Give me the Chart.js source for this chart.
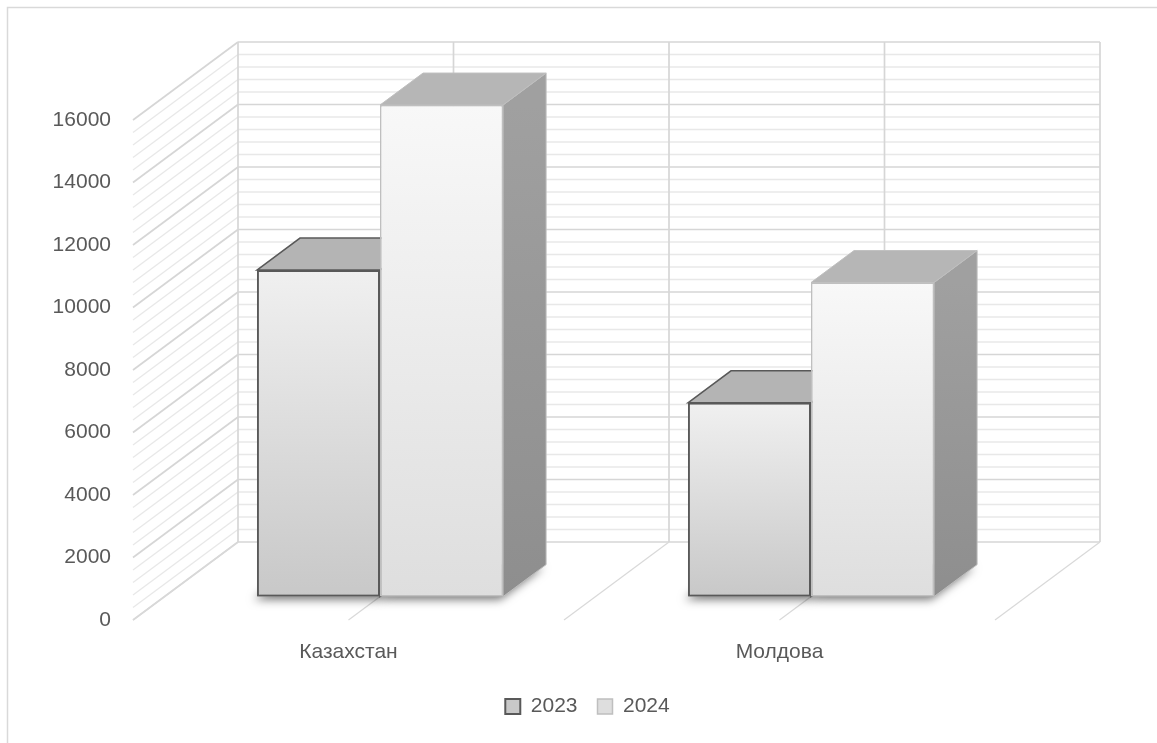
<!DOCTYPE html>
<html>
<head>
<meta charset="utf-8">
<title>Казахстан / Молдова</title>
<script src="https://cdn.jsdelivr.net/npm/chart.js@4.4.1/dist/chart.umd.min.js"></script>
<style>
  html, body { margin: 0; padding: 0; background: #fff; }
</style>
</head>
<body>
<canvas id="chart" width="1157" height="743"></canvas>
<script>
const categories = ['Казахстан', 'Молдова'];
const seriesNames = ['2023', '2024'];
const values2023 = [10450, 6200];
const values2024 = [15730, 10050];
const yMin = 0, yMax = 16000, yStep = 2000, yMinorStep = 400;

// 3D look: offset from the front plane to the back wall, in px
const DEPTH = { x: 105, y: -78 };
const BAR_FRONT = 0.3;   // bars' front face sits this far into the box
const BAR_DEPTH = 0.41;  // and the bars are this deep

const FONT = 'Liberation Sans, Arial, sans-serif';
const TEXT = '#595959';

// front face: light at the top, darker at the floor (flat colour for the legend)
function faceGradient(c, top, bottom, flat) {
  const y = c.chart.scales.y;
  if (!y || c.raw == null) return flat;
  const y0 = y.getPixelForValue(c.raw), y1 = y.getPixelForValue(0);
  if (!isFinite(y0) || !isFinite(y1) || y0 === y1) return flat;
  const g = c.chart.ctx.createLinearGradient(0, y0, 0, y1);
  g.addColorStop(0, top);
  g.addColorStop(1, bottom);
  return g;
}

const faceStyles = [
  { top: '#b4b4b4', side: ['#a2a2a2', '#8c8c8c'], edge: '#595959', edgeW: 1.5 },
  { top: '#b6b6b6', side: ['#a0a0a0', '#8e8e8e'], edge: '#bfbfbf', edgeW: 1 }
];

function drawFaces(ctx, meta, st) {
  const dx = DEPTH.x * BAR_DEPTH, dy = DEPTH.y * BAR_DEPTH;
  meta.data.forEach(bar => {
    const { x, y, base, width } = bar.getProps(['x', 'y', 'base', 'width'], true);
    const l = x - width / 2, r = x + width / 2;
    // side face
    const g = ctx.createLinearGradient(0, y, 0, base);
    g.addColorStop(0, st.side[0]);
    g.addColorStop(1, st.side[1]);
    ctx.beginPath();
    ctx.moveTo(r, y);
    ctx.lineTo(r + dx, y + dy);
    ctx.lineTo(r + dx, base + dy);
    ctx.lineTo(r, base);
    ctx.closePath();
    ctx.fillStyle = g;
    ctx.fill();
    ctx.strokeStyle = st.edge;
    ctx.lineWidth = st.edgeW;
    ctx.stroke();
    // top face
    ctx.beginPath();
    ctx.moveTo(l, y);
    ctx.lineTo(l + dx, y + dy);
    ctx.lineTo(r + dx, y + dy);
    ctx.lineTo(r, y);
    ctx.closePath();
    ctx.fillStyle = st.top;
    ctx.fill();
    ctx.stroke();
  });
}

const box3d = {
  id: 'box3d',
  beforeDraw(chart) {
    const ctx = chart.ctx;
    ctx.save();
    ctx.fillStyle = '#fff';
    ctx.fillRect(0, 0, chart.width, chart.height);
    ctx.strokeStyle = '#d9d9d9';
    ctx.lineWidth = 1.5;
    ctx.strokeRect(7.5, 7.5, chart.width + 50, chart.height + 50);
    ctx.restore();
  },
  beforeDatasetsDraw(chart) {
    const { ctx, chartArea: a, scales: { x, y } } = chart;
    const line = (x1, y1, x2, y2, color, w) => {
      ctx.beginPath();
      ctx.moveTo(x1, y1);
      ctx.lineTo(x2, y2);
      ctx.strokeStyle = color;
      ctx.lineWidth = w;
      ctx.stroke();
    };
    ctx.save();
    // side wall + back wall
    for (let v = yMin; v <= yMax; v += yMinorStep) {
      const major = v % yStep === 0;
      const py = y.getPixelForValue(v);
      const col = major ? '#d6d6d6' : '#e8e8e8';
      const w = major ? 1.7 : 1.3;
      line(a.left, py, a.left + DEPTH.x, py + DEPTH.y, col, w);
      line(a.left + DEPTH.x, py + DEPTH.y, a.right + DEPTH.x, py + DEPTH.y, col, w);
    }
    // verticals on the back wall and depth lines on the floor
    const half = (x.getPixelForValue(1) - x.getPixelForValue(0)) / 2;
    const xs = [];
    categories.forEach((c, i) => {
      const cx = x.getPixelForValue(i);
      xs.push(cx - half, cx);
    });
    xs.push(a.right);
    const topY = y.getPixelForValue(yMax) + DEPTH.y;
    const botY = y.getPixelForValue(yMin) + DEPTH.y;
    xs.forEach(px => {
      line(px + DEPTH.x, topY, px + DEPTH.x, botY, '#d6d6d6', 1.7);
      line(px, a.bottom, px + DEPTH.x, a.bottom + DEPTH.y, '#d9d9d9', 1.2);
    });

    // push the bars into the box
    ctx.translate(DEPTH.x * BAR_FRONT, DEPTH.y * BAR_FRONT);

    // soft shadow under each bar
    const dx = DEPTH.x * BAR_DEPTH, dy = DEPTH.y * BAR_DEPTH;
    ctx.save();
    ctx.shadowColor = 'rgba(0,0,0,0.55)';
    ctx.shadowBlur = 10;
    ctx.shadowOffsetX = -3;
    ctx.shadowOffsetY = 3;
    ctx.fillStyle = '#999';
    chart.data.datasets.forEach((ds, i) => {
      chart.getDatasetMeta(i).data.forEach(bar => {
        const { x: bx, base, width } = bar.getProps(['x', 'base', 'width'], true);
        const l = bx - width / 2, r = bx + width / 2;
        ctx.beginPath();
        ctx.moveTo(l, base);
        ctx.lineTo(r, base);
        ctx.lineTo(r + dx, base + dy);
        ctx.lineTo(l + dx, base + dy);
        ctx.closePath();
        ctx.fill();
      });
    });
    ctx.restore();
  },
  afterDatasetsDraw(chart) {
    // chart.js paints the last dataset first; paint the boxes front to back
    // here so the 2024 column hides the side of the 2023 one
    const ctx = chart.ctx;
    chart.data.datasets.forEach((ds, i) => {
      const meta = chart.getDatasetMeta(i);
      if (i > 0) meta.data.forEach(bar => bar.draw(ctx));
      drawFaces(ctx, meta, faceStyles[i]);
    });
    ctx.restore();
  }
};

const chart = new Chart(document.getElementById('chart'), {
  type: 'bar',
  data: {
    labels: categories,
    datasets: [
      {
        label: seriesNames[0],
        data: values2023,
        backgroundColor: c => faceGradient(c, '#f0f0f0', '#c8c8c8', '#d8d8d8'),
        borderColor: '#595959',
        borderWidth: 2,
        borderSkipped: false,
        clip: false
      },
      {
        label: seriesNames[1],
        data: values2024,
        backgroundColor: c => faceGradient(c, '#f8f8f8', '#dedede', '#ebebeb'),
        borderColor: '#bfbfbf',
        borderWidth: 1.5,
        borderSkipped: false,
        clip: false
      }
    ]
  },
  options: {
    responsive: false,
    animation: false,
    devicePixelRatio: 1,
    datasets: { bar: { categoryPercentage: 0.571, barPercentage: 1 } },
    layout: { padding: { top: 120, right: 0, left: 18, bottom: 16 } },
    scales: {
      x: {
        grid: { display: false, drawTicks: false },
        border: { display: false },
        ticks: { color: TEXT, font: { family: FONT, size: 21 }, padding: 20 },
        afterFit: s => { s.height = 56; }
      },
      y: {
        min: yMin,
        max: yMax,
        grid: { display: false, drawTicks: false },
        border: { display: false },
        ticks: {
          stepSize: yStep,
          color: TEXT,
          font: { family: FONT, size: 21 },
          padding: 22,
          callback: v => String(v)
        },
        afterFit: s => { s.width = 115; }
      },
      // empty right-hand axis, only keeps room for the box's depth
      yRight: {
        position: 'right',
        grid: { display: false, drawTicks: false },
        border: { display: false },
        ticks: { display: false },
        afterFit: s => { s.width = 162; }
      }
    },
    plugins: {
      legend: {
        position: 'bottom',
        labels: {
          color: TEXT,
          font: { family: FONT, size: 21 },
          boxWidth: 15,
          boxHeight: 15,
          padding: 20
        }
      },
      tooltip: { enabled: false }
    }
  },
  plugins: [box3d]
});
</script>
</body>
</html>
